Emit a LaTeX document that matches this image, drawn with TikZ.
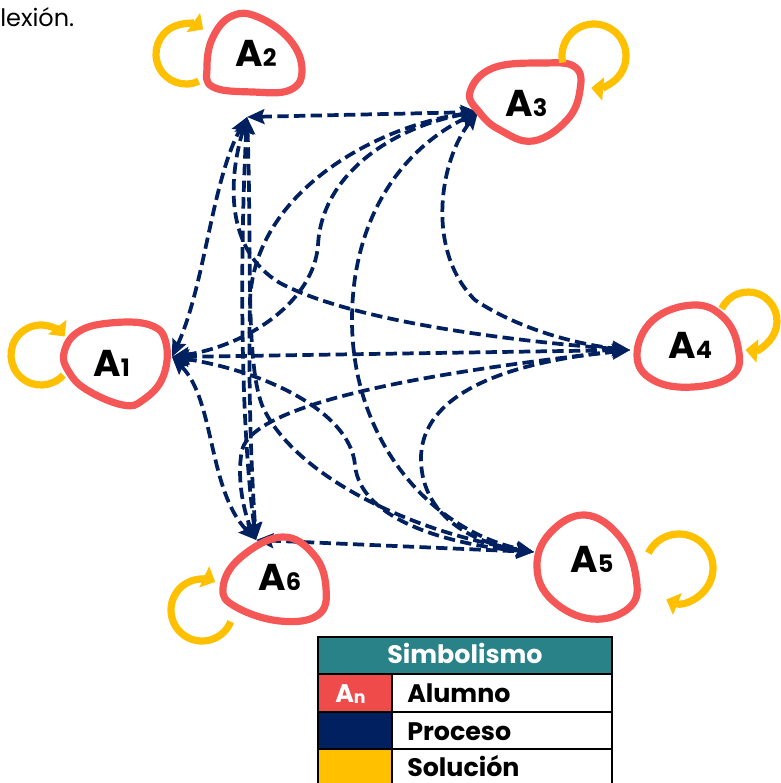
\documentclass[tikz,border=0pt]{standalone}
\usepackage{fontspec}
\setmainfont{Poppins}
\usetikzlibrary{arrows.meta}
\definecolor{blobred}{HTML}{F55656}
\definecolor{solyellow}{HTML}{FFC000}
\definecolor{navy}{HTML}{002060}
\definecolor{tealhead}{HTML}{2A8289}
\definecolor{cellred}{HTML}{EF4B4B}
\newcommand{\subdig}[1]{{\fontsize{18}{18}\selectfont #1}}
\begin{document}
\begin{tikzpicture}[x=0.75pt,y=-0.75pt,
  blob/.style={draw=blobred,line width=5.4pt},
  proc/.style={draw=navy,line width=2.8pt,dash pattern=on 8.5pt off 4pt,
    {Stealth[length=13pt,width=11pt,inset=2pt]}-{Stealth[length=13pt,width=11pt,inset=2pt]}},
  sol/.style={draw=solyellow,line width=5.4pt,-{Triangle[length=9pt,width=17pt]}},
  lab/.style={font=\fontsize{28}{28}\selectfont\bfseries,inner sep=0pt,anchor=base west},
  legtxt/.style={font=\fontsize{19}{19}\selectfont\bfseries,inner sep=0pt,anchor=base west},
  legline/.style={draw=black,line width=2pt}]
\useasboundingbox (0,0) rectangle (781,783);

% top text
\node[font=\fontsize{18}{18}\selectfont,inner sep=0pt,anchor=base west] (toptxt) at (0,26) {lexión.};

% hubs
\coordinate (h1) at (172,357);
\coordinate (h2) at (247,117);
\coordinate (h3) at (478,112);
\coordinate (h4) at (630,350);
\coordinate (h5) at (534,552);
\coordinate (h6) at (256,540);

% process connectors
\draw[proc] (h1) .. controls (205,285) and (212,180) .. (h2);
\draw[proc] (h1) .. controls (250,345) and (314,300) .. (318,245) .. controls (322,170) and (400,125) .. (h3);
\draw[proc] (h1) -- (h4);
\draw[proc] (h1) .. controls (260,370) and (350,410) .. (355,465) .. controls (360,520) and (450,545) .. (h5);
\draw[proc] (h1) .. controls (215,400) and (208,490) .. (h6);
\draw[proc] (h2) -- (h3);
\draw[proc] (h2) .. controls (228,180) and (225,250) .. (280,283) .. controls (350,320) and (500,340) .. (h4);
\draw[proc] (h2) .. controls (252,250) and (245,360) .. (262,405) .. controls (290,470) and (400,530) .. (h5);
\draw[proc] (h2) .. controls (240,250) and (240,420) .. (h6);
\draw[proc] (h3) .. controls (440,160) and (425,250) .. (475,300) .. controls (520,330) and (580,345) .. (h4);
\draw[proc] (h3) .. controls (400,150) and (352,220) .. (352,320) .. controls (352,440) and (430,530) .. (h5);
\draw[proc] (h3) .. controls (380,125) and (255,190) .. (250,300) .. controls (248,400) and (252,480) .. (h6);
\draw[proc] (h4) .. controls (480,365) and (420,405) .. (421,460) .. controls (422,520) and (480,545) .. (h5);
\draw[proc] (h4) .. controls (450,370) and (255,400) .. (242,450) .. controls (236,480) and (245,515) .. (h6);
\draw[proc] (h6) -- (h5);

% student blobs
\draw[blob] plot[smooth cycle,tension=0.7] coordinates {(64,353) (78,332) (110,323) (150,325) (166,343) (163,377) (143,400) (123,405) (87,390) (69,372)};
\draw[blob] plot[smooth cycle,tension=0.7] coordinates {(213,37) (232,16) (258,17) (290,40) (302,70) (290,90) (253,92) (213,87) (207,67)};
\draw[blob] plot[smooth cycle,tension=0.7] coordinates {(470,92) (493,68) (543,63) (575,67) (580,90) (567,120) (533,141) (500,130) (480,113)};
\draw[blob] plot[smooth cycle,tension=0.7] coordinates {(637,355) (653,320) (693,305) (723,317) (738,347) (733,375) (693,387) (653,380)};
\draw[blob] plot[smooth cycle,tension=0.7] coordinates {(585,515) (620,537) (636,577) (630,607) (592,619) (552,600) (537,567) (550,533)};
\draw[blob] plot[smooth cycle,tension=0.7] coordinates {(282,537) (314,555) (326,588) (318,615) (280,621) (236,607) (223,588) (240,558)};

\node[lab] (a1) at (93,376) {A\subdig{1}};
\node[lab] (a2) at (235,66) {A\subdig{2}};
\node[lab] (a3) at (505,116) {A\subdig{3}};
\node[lab] (a4) at (668,358) {A\subdig{4}};
\node[lab] (a5) at (570,572) {A\subdig{5}};
\node[lab] (a6) at (258,590) {A\subdig{6}};

% solution loops
\draw[sol] (41,355) ++(42:30) arc[start angle=42,end angle=322,radius=30];
\draw[sol] (186,54) ++(65:30) arc[start angle=65,end angle=305,radius=30];
\draw[sol] (594,56) ++(168:32) arc[start angle=168,end angle=455,radius=32];
\draw[sol] (748,321) ++(205:29) arc[start angle=205,end angle=455,radius=29];
\draw[sol] (679,568) ++(206:34) arc[start angle=206,end angle=472,radius=34];
\draw[sol] (202,610) ++(22:31) arc[start angle=22,end angle=295,radius=31];

% legend
\fill[tealhead] (318,637) rectangle (612,674);
\fill[cellred] (318,674) rectangle (392,712);
\fill[navy] (318,712) rectangle (392,749);
\fill[solyellow] (318,749) rectangle (392,790);
\draw[legline] (318,637) rectangle (612,790);
\draw[legline] (318,674) -- (612,674);
\draw[legline] (318,712) -- (612,712);
\draw[legline] (318,749) -- (612,749);
\draw[legline] (392,674) -- (392,790);
\node[font=\fontsize{19}{19}\selectfont\bfseries,text=white,inner sep=0pt,anchor=base] (leghead) at (465,663) {Simbolismo};
\node[legtxt,text=white] (legan) at (335,702) {A{\fontsize{13}{13}\selectfont\raisebox{-1pt}{n}}};
\node[legtxt] (legalumno) at (407,702) {Alumno};
\node[legtxt] (legproceso) at (407,740) {Proceso};
\node[legtxt] (legsolucion) at (407,776) {Solución};
\end{tikzpicture}
\end{document}
